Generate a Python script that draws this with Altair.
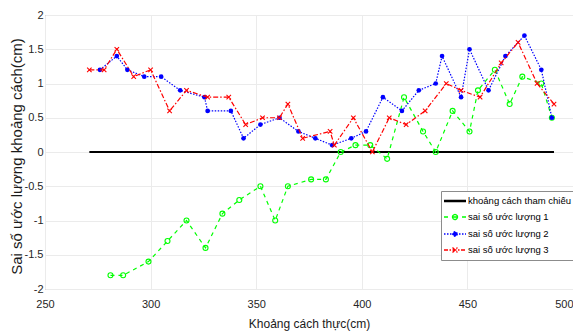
import altair as alt
import pandas as pd

# ---------------- data ----------------
ref_label = "khoảng cách tham chiếu"
s1_label = "sai số ước lượng 1"
s2_label = "sai số ước lượng 2"
s3_label = "sai số ước lượng 3"

ref_x = [271, 491]
ref_y = [0, 0]

x1 = [281, 287, 299, 308, 317, 326, 334, 342, 352, 359, 365, 376, 383, 390,
      397, 404, 412, 420, 429, 435, 443, 451, 455, 463, 470, 476, 485, 490]
y1 = [-1.8, -1.8, -1.6, -1.3, -1.0, -1.4, -0.9, -0.7, -0.5, -1.0, -0.5, -0.4, -0.4, 0.0,
      0.1, 0.1, -0.1, 0.8, 0.3, 0.0, 0.6, 0.3, 0.9, 1.2, 0.7, 1.1, 1.0, 0.5]

x2 = [276, 284, 289, 297, 305, 314, 325.5, 327, 338, 344, 352, 361, 370, 378, 386,
      395, 402, 410, 419, 427, 435, 438, 447, 451, 460, 468, 477, 485, 490]
y2 = [1.2, 1.4, 1.2, 1.1, 1.1, 0.9, 0.8, 0.6, 0.6, 0.2, 0.4, 0.5, 0.3, 0.2, 0.1,
      0.2, 0.3, 0.8, 0.6, 0.9, 1.0, 1.4, 0.8, 1.5, 0.9, 1.4, 1.7, 1.2, 0.5]

x3 = [271, 278, 284, 292, 300, 309, 317, 327, 337, 345, 353, 361, 365, 372,
      385, 387, 396, 405, 413, 421, 430, 440, 447, 456, 466, 474, 483, 491]
y3 = [1.2, 1.2, 1.5, 1.1, 1.2, 0.6, 0.9, 0.8, 0.8, 0.4, 0.5, 0.5, 0.7, 0.2,
      0.3, 0.1, 0.5, 0.0, 0.5, 0.4, 0.6, 1.0, 0.9, 0.8, 1.3, 1.6, 1.0, 0.7]

x_ticks = [250, 300, 350, 400, 450, 500]
y_ticks = [-2, -1.5, -1, -0.5, 0, 0.5, 1, 1.5, 2]

series_order = [ref_label, s1_label, s2_label, s3_label]
series_colors = ["#000000", "#00ff00", "#0000ff", "#ff0000"]
C_REF, C_1, C_2, C_3 = series_colors


def frame(xs, ys, label):
    return pd.DataFrame({"x": xs, "y": ys, "series": label})


df_ref = frame(ref_x, ref_y, ref_label)
df1 = frame(x1, y1, s1_label)
df2 = frame(x2, y2, s2_label)
df3 = frame(x3, y3, s3_label)
# one row per series, used only to build the legend (its marks have zero size)
df_leg = pd.concat([d.head(1) for d in (df_ref, df1, df2, df3)], ignore_index=True)

# ---------------- styling ----------------
FONT = "Liberation Sans, Arial, sans-serif"

# legend glyphs (line sample + marker), unit = 5 px
P_REF = "M-2.2,-0.1H2.2M-2.2,0.1H2.2"
P_1 = "M-2.2,0H-1.4M1.4,0H2.2M-0.5,0H0.5M0.5,0A0.5,0.5,0,1,1,-0.5,0A0.5,0.5,0,1,1,0.5,0"
P_2 = "M-2.2,0H2.2M0.45,0A0.45,0.45,0,1,1,-0.45,0A0.45,0.45,0,1,1,0.45,0"
P_3 = "M-2.2,0H2.2M-0.5,-0.5L0.5,0.5M-0.5,0.5L0.5,-0.5"
legend_shapes = [P_REF, P_1, P_2, P_3]
legend_fills = ["transparent", "transparent", "#0000ff", "transparent"]
legend_dashes = [[1, 0], [1, 0], [1.5, 1.5], [4, 1.5, 1.5, 1.5]]

legend = alt.Legend(
    title=None,
    orient="none",
    legendX=396,
    legendY=176,
    direction="vertical",
    symbolSize=100,
    symbolOffset=4,
    symbolStrokeWidth=1.3,
    symbolOpacity=1,
    labelOffset=7,
    labelFont=FONT,
    labelFontSize=9.5,
    labelColor="#000000",
    padding=4,
    rowPadding=5,
    strokeColor="#8c8c8c",
    fillColor="#ffffff",
)

x_enc = alt.X(
    "x:Q",
    scale=alt.Scale(domain=[250, 500], nice=False, zero=False),
    axis=alt.Axis(
        values=x_ticks,
        title="Khoảng cách thực(cm)",
        titleFont=FONT,
        titleFontSize=12,
        titleFontWeight="normal",
        titleColor="#1a1a1a",
        titleBaseline="alphabetic",
        titleY=38,
        labelPadding=9,
        labelFlush=False,
        labelAlign={"condition": {"test": "datum.value >= 500", "value": "right"}, "value": "center"},
    ),
)
y_enc = alt.Y(
    "y:Q",
    scale=alt.Scale(domain=[-2, 2], nice=False, zero=False),
    axis=alt.Axis(
        values=y_ticks,
        labelExpr="datum.value + ''",
        title="Sai số ước lượng khoảng cách(cm)",
        titleFont=FONT,
        titleFontSize=15,
        titleFontWeight="normal",
        titleColor="#1a1a1a",
        titleX=-21,
        titleY=141,
        labelPadding=2,
        labelFlush=False,
    ),
)

ref_line = alt.Chart(df_ref).mark_line(strokeWidth=2, color=C_REF).encode(x=x_enc, y=y_enc)

line1 = alt.Chart(df1).mark_line(strokeWidth=1.2, strokeDash=[4, 4], color=C_1).encode(x=x_enc, y=y_enc)
pts1 = alt.Chart(df1).mark_point(shape="circle", filled=False, size=25, strokeWidth=1.1, opacity=1,
                                 color=C_1).encode(x=x_enc, y=y_enc)

line2 = alt.Chart(df2).mark_line(strokeWidth=1.2, strokeDash=[1.5, 1.5], color=C_2).encode(x=x_enc, y=y_enc)
pts2 = alt.Chart(df2).mark_point(shape="circle", filled=True, size=22, opacity=1, color=C_2).encode(
    x=x_enc, y=y_enc)

line3 = alt.Chart(df3).mark_line(strokeWidth=1.2, strokeDash=[5, 2, 1.5, 2], color=C_3).encode(x=x_enc, y=y_enc)
pts3 = alt.Chart(df3).mark_point(shape="M-1,-1L1,1M-1,1L1,-1", filled=False, size=20, strokeWidth=1.1,
                                 opacity=1, color=C_3).encode(x=x_enc, y=y_enc)

legend_layer = alt.Chart(df_leg).mark_point(size=0, strokeWidth=0).encode(
    x=x_enc,
    y=y_enc,
    stroke=alt.Stroke("series:N", scale=alt.Scale(domain=series_order, range=series_colors), legend=legend),
    shape=alt.Shape("series:N", scale=alt.Scale(domain=series_order, range=legend_shapes), legend=legend),
    fill=alt.Fill("series:N", scale=alt.Scale(domain=series_order, range=legend_fills), legend=legend),
    strokeDash=alt.StrokeDash("series:N", scale=alt.Scale(domain=series_order, range=legend_dashes),
                              legend=legend),
)

chart = (
    alt.layer(ref_line, line1, pts1, line2, pts2, line3, pts3, legend_layer)
    .properties(
        width=528,
        height=274,
        autosize=alt.AutoSizeParams(type="none"),
        padding={"left": 37, "top": 7, "right": 0, "bottom": 44},
        background="#ffffff",
    )
    .configure_view(stroke="#8c8c8c", strokeWidth=1)
    .configure_axis(
        domain=False,
        ticks=False,
        grid=True,
        gridColor="#ebebeb",
        gridWidth=1,
        labelFont=FONT,
        labelFontSize=11,
        labelColor="#262626",
    )
)

chart.save("out.html", embed_options={"renderer": "svg", "actions": False})
